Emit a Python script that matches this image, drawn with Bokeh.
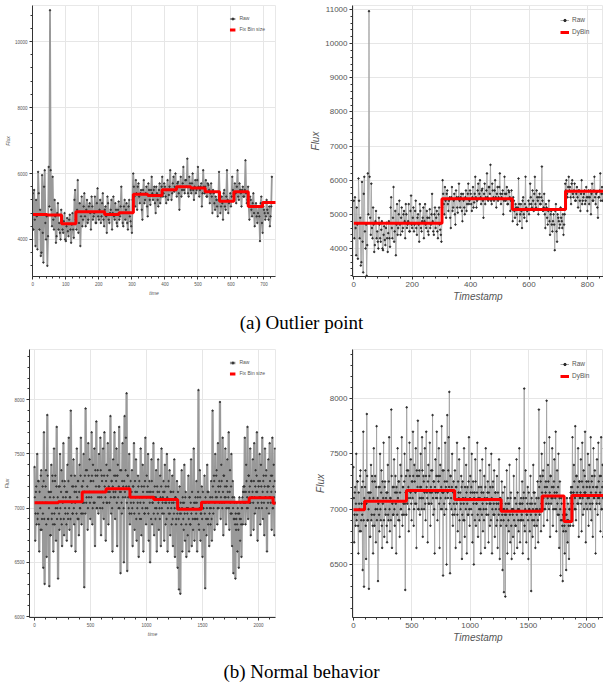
from bokeh.plotting import figure
from bokeh.layouts import column, row
from bokeh.models import Range1d, SingleIntervalTicker, Div
from bokeh.embed import file_html
from bokeh.resources import INLINE

# ---------------- data: (a) outlier series ----------------
top_time_even = list(range(0, 856, 4))
top_flux_even = [
    5400, 5500, 3800, 4700, 6050, 4300, 3500, 5950, 3300, 6100,
    4000, 3200, 6200, 10950, 4900, 5900, 4300, 4700, 4100, 5100,
    4500, 4000, 4700, 4200, 4800, 3950, 4650, 4100, 4750, 3900,
    4800, 4050, 5500, 4300, 5800, 4500, 3800, 5300, 4600, 5400,
    4400, 5200, 4600, 5100, 4300, 5000, 4700, 5300, 4500, 5550,
    4600, 5200, 4700, 5400, 4400, 5000, 4200, 5100, 4500, 4900,
    4300, 5300, 4600, 4900, 4400, 5150, 4700, 5600, 4500, 5000,
    4600, 5100, 4300, 5200, 4550, 4200, 6000, 5300, 5800, 4900,
    5700, 5100, 5500, 4600, 5800, 5200, 5600, 4700, 5500, 5050,
    5900, 5200, 5600, 4800, 5400, 5000, 5700, 5300, 5900, 5400,
    5600, 5100, 5800, 5350, 6100, 5200, 5700, 5450, 6000, 5300,
    5750, 4900, 5900, 5500, 6200, 5400, 5800, 6450, 5300, 5700,
    5400, 6000, 5200, 5800, 5500, 6200, 5300, 5600, 5000, 6100,
    5400, 5800, 5300, 5650, 5100, 5700, 4800, 5400, 4900, 5200,
    4700, 6050, 4800, 5300, 4600, 5500, 4900, 6100, 4800, 5150,
    5000, 5900, 5300, 5700, 5100, 6100, 5200, 5500, 5000, 5600,
    5300, 6400, 5100, 5600, 4600, 5200, 4700, 5400, 4400, 5100,
    4500, 5000, 3950, 5300, 4200, 4900, 4600, 5200, 4800, 5000,
    4700, 5900, 6000, 5500, 6100, 5800, 5300, 6000, 5500, 5900,
    5400, 5800, 5200, 5700, 5100, 6000, 5400, 5600, 5300, 5800,
    5100, 5700, 5500, 5000, 5900, 5400, 6100, 5300, 5650, 4900,
    5500, 6200, 5600, 5400,
]
top_time_odd = list(range(2, 856, 4))
top_flux_odd = [
    4300, 4600, 5200, 3700, 5400, 4900, 3600, 4200, 5600, 4500,
    4700, 4100, 5000, 6100, 4400, 4600, 5200, 3900, 4800, 4300,
    4200, 4900, 4300, 4550, 4000, 4400, 4250, 4600, 4300, 4450,
    4300, 5200, 4600, 4900, 4200, 5100, 4700, 4400, 5000, 4700,
    4900, 4500, 5000, 4800, 5300, 4600, 4800, 4500, 5100, 4700,
    4900, 4500, 5100, 4600, 4900, 4700, 5300, 4600, 4800, 5200,
    4800, 4700, 5100, 4500, 4900, 4600, 5000, 4800, 4400, 5200,
    4900, 4500, 5000, 4700, 4400, 5200, 5600, 5000, 5400, 5600,
    5300, 5400, 4900, 5500, 5100, 5400, 5000, 5700, 5200, 5500,
    5400, 5500, 5100, 5600, 5200, 5500, 5100, 5600, 5300, 5700,
    5300, 5500, 5200, 5600, 5500, 5400, 5900, 5600, 5500, 5700,
    5400, 5600, 5300, 5700, 5500, 5800, 5600, 5400, 5900, 5500,
    5700, 5500, 5600, 5400, 5800, 5600, 5500, 5700, 5400, 5600,
    5600, 5300, 5700, 5500, 5400, 5300, 5500, 5100, 5300, 5000,
    5200, 5300, 5000, 5100, 5400, 5000, 5300, 5200, 5100, 5400,
    5300, 5500, 5200, 5400, 5600, 5300, 5700, 5400, 5500, 5300,
    5500, 5400, 5200, 5000, 5300, 4900, 5100, 4800, 5000, 4700,
    4800, 4700, 5100, 4500, 5000, 4800, 4700, 4900, 4600, 4400,
    5000, 5700, 5600, 5800, 5700, 5500, 5900, 5600, 5700, 5400,
    5600, 5500, 5700, 5400, 5600, 5300, 5500, 5700, 5400, 5500,
    5500, 5300, 5700, 5600, 5400, 5700, 5500, 5600, 5200, 5500,
    5700, 5400, 5800, 5600,
]
left_time_end = 724

fix_edges_a = [0, 43.5, 87, 130.5, 174, 217.5, 261, 304.5, 348, 391.5, 435,
               478.5, 522, 565.5, 609, 652.5, 696, 739.5]
fix_vals_a = [4760, 4740, 4480, 4840, 4840, 4760, 4810, 5370, 5330, 5510,
              5600, 5560, 5450, 5160, 5450, 5000, 5120]

dy_edges_a = [0, 302, 543, 725, 860]
dy_vals_a = [4740, 5460, 5140, 5675]

# ---------------- data: (b) normal series ----------------
bot_time_even = list(range(0, 2160, 6))
bot_flux_even = [
    7380, 6700, 7150, 6850, 7500, 6950, 7250, 6600, 7050, 6800, 7350, 6900,
    7200, 6450, 7700, 6300, 7050, 7350, 6550, 7860, 6900, 7150, 6280, 7100,
    6750, 7400, 6950, 7250, 6600, 7550, 6850, 7300, 6700, 7750, 7000, 6350,
    7200, 6800, 7500, 6900, 7350, 6650, 7050, 7600, 6750, 7250, 6950, 7150,
    6700, 7400, 6900, 7650, 6800, 7100, 7900, 6650, 7200, 6950, 7450, 6850,
    7300, 6600, 7150, 7550, 6900, 7250, 6750, 7400, 7000, 7650, 6850, 7200,
    6950, 7500, 6270, 7300, 7920, 7050, 7350, 6800, 7600, 7100, 7450, 6900,
    7250, 7700, 6850, 7400, 7050, 7550, 6650, 7300, 7800, 7000, 7350, 6950,
    7500, 7100, 7650, 6750, 7300, 7000, 7550, 6900, 7700, 7150, 6700, 7400,
    7050, 7600, 6850, 7350, 7150, 7850, 6950, 7250, 6600, 7450, 7100, 7700,
    6900, 7300, 7550, 6650, 7400, 7000, 7750, 7150, 6400, 7350, 6950, 7600,
    7200, 6500, 7850, 7100, 7650, 8060, 6420, 7300, 7000, 7500, 6850, 7250,
    6950, 7350, 6650, 7200, 7600, 6800, 7150, 7450, 6700, 7000, 7300, 6550,
    7250, 6900, 7550, 6750, 7100, 7400, 6600, 7200, 6950, 7650, 6850, 7300,
    7000, 7500, 6700, 7250, 6500, 7150, 7450, 6850, 7050, 7600, 6750, 7200,
    6900, 7350, 6600, 7150, 7450, 6800, 7000, 7300, 6650, 7550, 6950, 7100,
    7250, 6700, 7400, 6850, 7050, 7500, 6600, 7200, 6950, 7350, 6750, 7150,
    6850, 7300, 6650, 7050, 7450, 6550, 7100, 6900, 7250, 6450, 7000, 6250,
    7200, 6210, 6950, 7350, 6600, 7050, 6800, 7400, 6700, 7150, 6550, 7000,
    6750, 7300, 6600, 7100, 6850, 7450, 6650, 7000, 6800, 7550, 6700, 7050,
    6900, 7250, 6600, 7100, 8090, 6800, 7350, 6700, 6950, 7200, 6550, 7000,
    6800, 7300, 6260, 7050, 6750, 7400, 6900, 7150, 6650, 7000, 6850, 7250,
    6700, 7900, 6950, 7300, 6800, 7500, 7100, 7350, 6850, 7600, 7000, 7250,
    7980, 6900, 7400, 7050, 7650, 6750, 7300, 7100, 7550, 6850, 7200, 7450,
    7000, 7700, 6800, 7350, 6950, 7500, 6650, 7250, 6400, 7100, 6900, 6350,
    6800, 7050, 6600, 6950, 6450, 7100, 6700, 6900, 6550, 7000, 6850, 7200,
    7150, 7650, 6850, 7400, 7000, 7750, 6900, 7300, 7050, 7550, 6750, 7250,
    7100, 7450, 6800, 7600, 6950, 7350, 7150, 7700, 6700, 7250, 7000, 7500,
    6850, 7400, 7050, 7650, 6900, 7300, 6750, 7550, 7100, 7350, 6600, 7200,
    7450, 6950, 7600, 7100, 7300, 6800, 7650, 7000, 7400, 6750, 7550, 7150,
]
bot_time_odd = list(range(3, 2160, 6))
bot_flux_odd = [
    7100, 6950, 7200, 7050, 6900, 7250, 6850, 7150, 7000, 7300, 6800, 7050,
    6950, 7250, 6900, 7100, 7200, 6850, 7050, 7300, 6900, 7000, 7150, 6750,
    7150, 6900, 7300, 6850, 7100, 6950, 7250, 7000, 7200, 6900, 7100, 7050,
    6950, 7200, 7000, 7150, 6850, 7250, 7100, 6900, 7200, 7000, 7100, 6850,
    7150, 6950, 7250, 7000, 7100, 6900, 7300, 7050, 6950, 7200, 7000, 7150,
    7050, 7200, 6950, 7100, 7250, 6900, 7150, 7000, 7300, 6950, 7200, 7050,
    7250, 7050, 7150, 6950, 7350, 7100, 7200, 7000, 7300, 7150, 7050, 7250,
    7100, 7300, 7000, 7250, 7150, 7050, 7350, 7200, 7000, 7300, 7100, 7200,
    7200, 7000, 7350, 7100, 7250, 7150, 7050, 7300, 7200, 7100, 7250, 7050,
    7300, 7150, 7200, 7050, 7350, 7100, 7250, 7000, 7200, 7150, 7300, 7100,
    7150, 7250, 7050, 7300, 7100, 7200, 7000, 7350, 7150, 7050, 7250, 7100,
    7000, 7250, 7150, 7350, 7200, 7050, 7300, 7100, 7200, 6950, 7150, 7050,
    7150, 7000, 7200, 7050, 6950, 7250, 7100, 6900, 7150, 7050, 7200, 6950,
    7100, 7050, 6900, 7200, 7000, 7150, 7050, 6950, 7250, 7000, 7100, 7150,
    7200, 6950, 7150, 7050, 7100, 6900, 7250, 7050, 7150, 6950, 7100, 7000,
    7100, 7000, 7200, 6950, 7050, 7150, 6900, 7100, 7200, 7000, 7050, 7150,
    6950, 7150, 7050, 7200, 6900, 7100, 7000, 7250, 7050, 6950, 7150, 7000,
    7050, 6900, 7150, 6950, 7000, 7100, 6850, 7050, 6950, 7150, 6900, 7000,
    6950, 7050, 6850, 7000, 7100, 6900, 7050, 6950, 7100, 6850, 7000, 6950,
    7000, 6900, 7100, 6850, 7050, 6950, 7150, 6900, 7000, 7050, 6900, 7100,
    6950, 7050, 6900, 7150, 6850, 7000, 7100, 6950, 7050, 6900, 7150, 7000,
    7050, 6950, 7100, 6900, 7000, 7150, 6850, 7050, 6950, 7100, 7000, 6900,
    7100, 7200, 7000, 7250, 7050, 7150, 7300, 7100, 7000, 7200, 7150, 7050,
    7200, 7100, 7250, 7000, 7150, 7300, 7050, 7200, 7100, 7000, 7250, 7150,
    7100, 7000, 7150, 7050, 7200, 6950, 7100, 7000, 6900, 7050, 6850, 6950,
    6900, 6850, 7000, 6800, 6950, 6900, 7050, 6850, 7000, 7100, 7150, 7050,
    7200, 7050, 7150, 7250, 7100, 7000, 7300, 7150, 7200, 7050, 7250, 7100,
    7150, 7050, 7250, 7100, 7200, 7000, 7300, 7150, 7050, 7200, 7100, 7250,
    7100, 7200, 7000, 7150, 7250, 7050, 7200, 7100, 7300, 7000, 7150, 7050,
    7200, 7100, 7250, 7050, 7150, 7300, 7000, 7200, 7100, 7250, 7050, 7150,
]

fix_edges_b = [0, 213, 426, 639, 852, 1065, 1278, 1491, 1704, 1917, 2130, 2170]
fix_vals_b = [7050, 7060, 7150, 7180, 7100, 7080, 6990, 7055, 7055, 7095, 7045]

dy_edges_b = [0, 95, 454, 867, 1266, 1618, 1806, 1873, 2170]
dy_vals_b = [6995, 7072, 7169, 7087, 6982, 7120, 6889, 7123]

captions = ["(a) Outlier point", "(b) Normal behavior"]


def merge(t1, v1, t2, v2):
    pairs = sorted(zip(list(t1) + list(t2), list(v1) + list(v2)))
    return [a for a, _ in pairs], [b for _, b in pairs]


top_time, top_flux = merge(top_time_even, top_flux_even, top_time_odd, top_flux_odd)
bot_time, bot_flux = merge(bot_time_even, bot_flux_even, bot_time_odd, bot_flux_odd)


def panel(xs, ys, edges, vals, xr, yr, xint, yint, xlabel, binlabel,
          w, h, borders, small, raw_width):
    top, right, bottom, left = borders
    p = figure(width=w, height=h, x_range=Range1d(*xr), y_range=Range1d(*yr),
               output_backend="svg", toolbar_location=None,
               min_border_top=top, min_border_right=right,
               min_border_bottom=bottom, min_border_left=left,
               background_fill_color="white", border_fill_color="white")
    p.outline_line_color = "#e8e8e8"
    p.grid.grid_line_color = "#e6e6e6"
    p.xaxis.ticker = SingleIntervalTicker(interval=xint, num_minor_ticks=5)
    p.yaxis.ticker = SingleIntervalTicker(interval=yint, num_minor_ticks=5)
    p.xaxis.axis_label = xlabel
    p.yaxis.axis_label = "Flux"
    for ax in p.axis:
        ax.axis_label_text_font_style = "italic"
        ax.axis_label_text_font = "Liberation Sans"
        ax.major_label_text_font = "Liberation Sans"
        ax.axis_label_text_color = "#555555"
        ax.major_label_text_color = "#555555"
        ax.major_tick_in = 0
        ax.minor_tick_in = 0
        ax.axis_line_color = "#333333"
        ax.major_tick_line_color = "#333333"
        ax.minor_tick_line_color = "#333333"
        ax.major_tick_out = 3
        ax.minor_tick_out = 2
        if small:
            ax.major_label_text_font_size = "4.5px"
            ax.axis_label_text_font_size = "5px"
            ax.major_label_standoff = 2
            ax.axis_label_standoff = 1
        else:
            ax.major_label_text_font_size = "8px"
            ax.axis_label_text_font_size = "10px"
            ax.major_label_standoff = 2
            ax.axis_label_standoff = 1
    if small:
        p.line(xs, ys, line_color="#999999", line_width=raw_width,
               legend_label="Raw")
        p.scatter(xs, ys, marker="circle", size=1.4, color="#333333",
                  legend_label="Raw")
    else:
        p.line(xs, ys, line_color="#a6a6a6", line_width=raw_width,
               legend_label="Raw")
        p.scatter(xs, ys, marker="circle", size=1.5, color="#2a2a2a",
                  legend_label="Raw")
    p.step(edges, list(vals) + [vals[-1]], mode="after", line_color="#ff0000",
           line_width=3, legend_label=binlabel)
    lg = p.legend[0]
    lg.location = "top_right"
    lg.background_fill_alpha = 0
    lg.border_line_alpha = 0
    lg.label_text_font = "Liberation Sans"
    lg.label_text_color = "#555555"
    if small:
        lg.label_text_font_size = "5px"
        lg.glyph_width = 6
        lg.glyph_height = 5
        lg.label_height = 5
        lg.spacing = 5
        lg.padding = 2
        lg.margin = 8
        lg.label_standoff = 4
    else:
        lg.label_text_font_size = "6.5px"
        lg.glyph_width = 9
        lg.glyph_height = 6
        lg.label_height = 6
        lg.spacing = 5
        lg.padding = 2
        lg.margin = 9
        lg.label_standoff = 3
    return p


left_x = [t for t in top_time if t <= left_time_end]
left_y = top_flux[:len(left_x)]

f1 = panel(left_x, left_y, fix_edges_a, fix_vals_a, (-1, 735), (2877, 11094),
           100, 2000, "time", "Fix Bin size", 290, 308, (5, 15, 25, 32), True, 1.8)
f2 = panel(top_time, top_flux, dy_edges_a, dy_vals_a, (-4.5, 855), (3180, 11117),
           200, 1000, "Timestamp", "DyBin", 313, 308, (5, 0, 32, 62), False, 0.9)
f3 = panel(bot_time, bot_flux, fix_edges_b, fix_vals_b, (-45, 2152), (5991, 8464),
           500, 500, "time", "Fix Bin size", 290, 317, (10, 15, 30, 29), True, 2.3)
f4 = panel(bot_time, bot_flux, dy_edges_b, dy_vals_b, (-8.6, 2144), (6021, 8443),
           500, 500, "Timestamp", "DyBin", 313, 317, (11, 0, 38, 62), False, 1.0)

cap_style = {"font-family": "'Liberation Serif', 'Times New Roman', serif",
             "font-size": "19px", "text-align": "center", "color": "black"}
cap_a = Div(text=captions[0], width=603, height=30, margin=(0, 0, 0, 0),
            styles=dict(cap_style, **{"line-height": "30px"}))
cap_b = Div(text=captions[1], width=603, height=33, margin=(0, 0, 0, 0),
            styles=dict(cap_style, **{"line-height": "33px"}))

layout = column(row(f1, f2), cap_a, row(f3, f4), cap_b)

with open("out.html", "w") as fh:
    fh.write(file_html(layout, INLINE))
